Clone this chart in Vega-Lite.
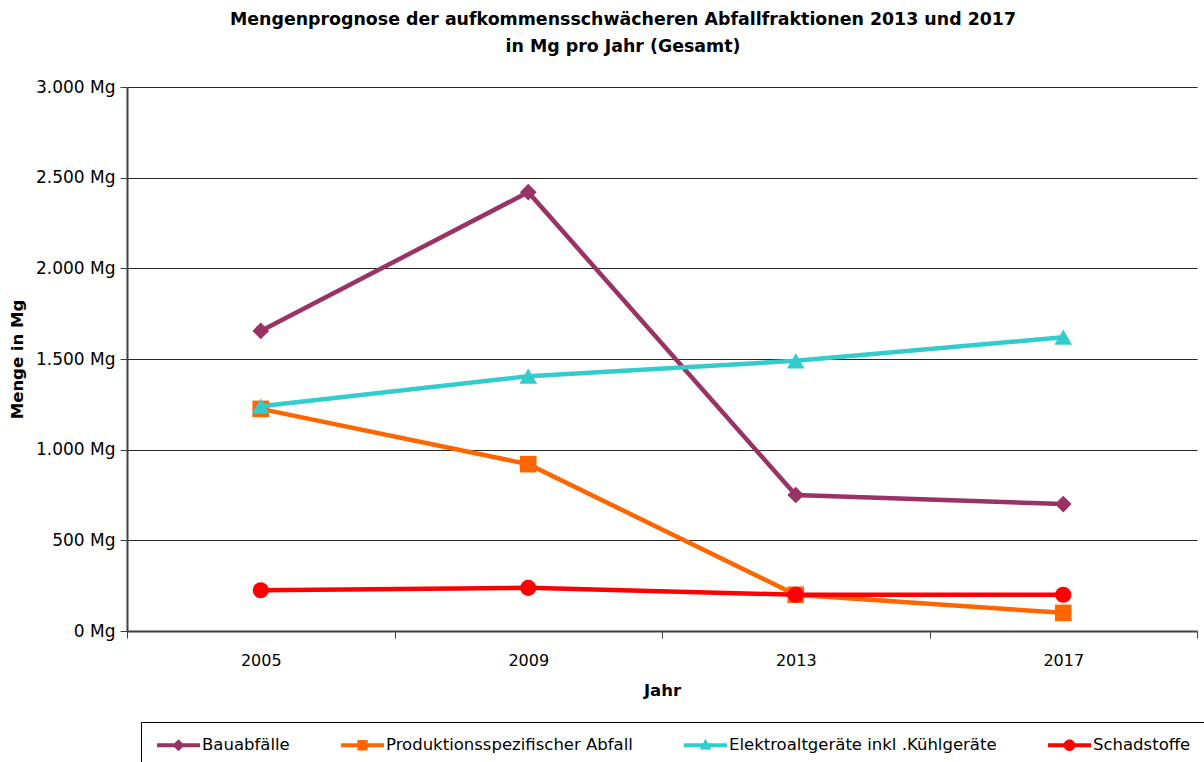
{
  "$schema": "https://vega.github.io/schema/vega-lite/v6.json",
  "autosize": {"type": "none"},
  "padding": {"left": 127, "top": 87, "right": 7, "bottom": 131},
  "width": 1070,
  "height": 544,
  "background": "white",
  "config": {
    "view": {"stroke": null},
    "font": "DejaVu Sans"
  },
  "title": {
    "text": ["Mengenprognose der aufkommensschwächeren Abfallfraktionen 2013 und 2017", "in Mg pro Jahr (Gesamt)"],
    "font": "DejaVu Sans",
    "fontSize": 17.4,
    "fontWeight": "bold",
    "color": "black",
    "anchor": "middle",
    "frame": "group",
    "dx": -39,
    "offset": 23,
    "lineHeight": 27
  },
  "data": {
    "values": [
      {"jahr": "2005", "serie": "Bauabfälle", "menge": 1655},
      {"jahr": "2009", "serie": "Bauabfälle", "menge": 2420},
      {"jahr": "2013", "serie": "Bauabfälle", "menge": 750},
      {"jahr": "2017", "serie": "Bauabfälle", "menge": 700},
      {"jahr": "2005", "serie": "Produktionsspezifischer Abfall", "menge": 1225},
      {"jahr": "2009", "serie": "Produktionsspezifischer Abfall", "menge": 920},
      {"jahr": "2013", "serie": "Produktionsspezifischer Abfall", "menge": 200},
      {"jahr": "2017", "serie": "Produktionsspezifischer Abfall", "menge": 100},
      {"jahr": "2005", "serie": "Elektroaltgeräte inkl .Kühlgeräte", "menge": 1240},
      {"jahr": "2009", "serie": "Elektroaltgeräte inkl .Kühlgeräte", "menge": 1405},
      {"jahr": "2013", "serie": "Elektroaltgeräte inkl .Kühlgeräte", "menge": 1490},
      {"jahr": "2017", "serie": "Elektroaltgeräte inkl .Kühlgeräte", "menge": 1620},
      {"jahr": "2005", "serie": "Schadstoffe", "menge": 225},
      {"jahr": "2009", "serie": "Schadstoffe", "menge": 238},
      {"jahr": "2013", "serie": "Schadstoffe", "menge": 200},
      {"jahr": "2017", "serie": "Schadstoffe", "menge": 200}
    ]
  },
  "encoding": {
    "x": {
      "field": "jahr",
      "type": "ordinal",
      "bandPosition": 0.5,
      "scale": {"type": "band", "paddingInner": 0, "paddingOuter": 0},
      "axis": {
        "title": "Jahr",
        "titleFont": "DejaVu Sans",
        "titleFontSize": 16.5,
        "titleFontWeight": "bold",
        "titleColor": "black",
        "titlePadding": 14,
        "labelAngle": 0,
        "labelFont": "DejaVu Sans",
        "labelFontSize": 16,
        "labelColor": "black",
        "labelPadding": 14,
        "tickBand": "extent",
        "tickSize": 7,
        "tickColor": "#404040",
        "tickWidth": 1,
        "domainColor": "#404040",
        "domainWidth": 2,
        "grid": false
      }
    },
    "y": {
      "field": "menge",
      "type": "quantitative",
      "scale": {"domain": [0, 3000]},
      "axis": {
        "title": "Menge in Mg",
        "titleFont": "DejaVu Sans",
        "titleFontSize": 16.5,
        "titleFontWeight": "bold",
        "titleColor": "black",
        "titlePadding": 10,
        "values": [0, 500, 1000, 1500, 2000, 2500, 3000],
        "labelExpr": "replace(format(datum.value, ',d'), ',', '.') + ' Mg'",
        "labelFont": "DejaVu Sans",
        "labelFontSize": 17,
        "labelColor": "black",
        "labelPadding": 5,
        "tickSize": 7,
        "tickColor": "#404040",
        "domainColor": "#404040",
        "domainWidth": 2,
        "grid": true,
        "gridColor": "black",
        "gridWidth": 1,
        "gridOpacity": 0.85
      }
    }
  },
  "layer": [
    {
      "transform": [{"filter": "datum.serie === 'Bauabfälle'"}],
      "mark": {"type": "line", "color": "#993366", "strokeWidth": 4.5}
    },
    {
      "transform": [{"filter": "datum.serie === 'Bauabfälle'"}],
      "mark": {"type": "point", "shape": "diamond", "filled": true, "opacity": 1, "color": "#993366", "size": 280}
    },
    {
      "transform": [{"filter": "datum.serie === 'Produktionsspezifischer Abfall'"}],
      "mark": {"type": "line", "color": "#FF6600", "strokeWidth": 4.5}
    },
    {
      "transform": [{"filter": "datum.serie === 'Produktionsspezifischer Abfall'"}],
      "mark": {"type": "point", "shape": "square", "filled": true, "opacity": 1, "color": "#FF6600", "size": 275}
    },
    {
      "transform": [{"filter": "datum.serie === 'Elektroaltgeräte inkl .Kühlgeräte'"}],
      "mark": {"type": "line", "color": "#33CCCC", "strokeWidth": 4.5}
    },
    {
      "transform": [{"filter": "datum.serie === 'Elektroaltgeräte inkl .Kühlgeräte'"}],
      "mark": {"type": "point", "shape": "triangle-up", "filled": true, "opacity": 1, "color": "#33CCCC", "size": 310}
    },
    {
      "transform": [{"filter": "datum.serie === 'Schadstoffe'"}],
      "mark": {"type": "line", "color": "#FF0000", "strokeWidth": 4.5}
    },
    {
      "transform": [{"filter": "datum.serie === 'Schadstoffe'"}],
      "mark": {"type": "point", "shape": "circle", "filled": true, "opacity": 1, "color": "#FF0000", "size": 260}
    },
    {
      "transform": [{"filter": "datum.menge < 0"}],
      "mark": {"type": "point", "filled": true, "opacity": 1},
      "encoding": {
        "color": {
          "field": "serie",
          "type": "nominal",
          "scale": {
            "domain": ["Bauabfälle", "Produktionsspezifischer Abfall", "Elektroaltgeräte inkl .Kühlgeräte", "Schadstoffe"],
            "range": ["#993366", "#FF6600", "#33CCCC", "#FF0000"]
          },
          "legend": {
            "title": null,
            "orient": "none",
            "legendX": 14,
            "legendY": 635,
            "direction": "horizontal",
            "columns": 4,
            "columnPadding": 51,
            "padding": 16,
            "clipHeight": 14,
            "strokeColor": "black",
            "fillColor": "white",
            "symbolSize": 1849,
            "symbolStrokeWidth": 0,
            "symbolOpacity": 1,
            "labelOffset": 2,
            "labelFont": "DejaVu Sans",
            "labelFontSize": 16.5,
            "labelColor": "black",
            "labelLimit": 400
          }
        },
        "shape": {
          "field": "serie",
          "type": "nominal",
          "scale": {
            "domain": ["Bauabfälle", "Produktionsspezifischer Abfall", "Elektroaltgeräte inkl .Kühlgeräte", "Schadstoffe"],
            "range": [
              "M-1,-0.095H1V0.095H-1Z M0,-0.28L0.28,0L0,0.28L-0.28,0Z",
              "M-1,-0.095H1V0.095H-1Z M-0.24,-0.24H0.24V0.24H-0.24Z",
              "M-1,-0.095H1V0.095H-1Z M0,-0.3L0.28,0.2H-0.28Z",
              "M-1,-0.095H1V0.095H-1Z M-0.27,0A0.27,0.27 0 1,1 0.27,0A0.27,0.27 0 1,1 -0.27,0Z"
            ]
          }
        }
      }
    }
  ]
}
